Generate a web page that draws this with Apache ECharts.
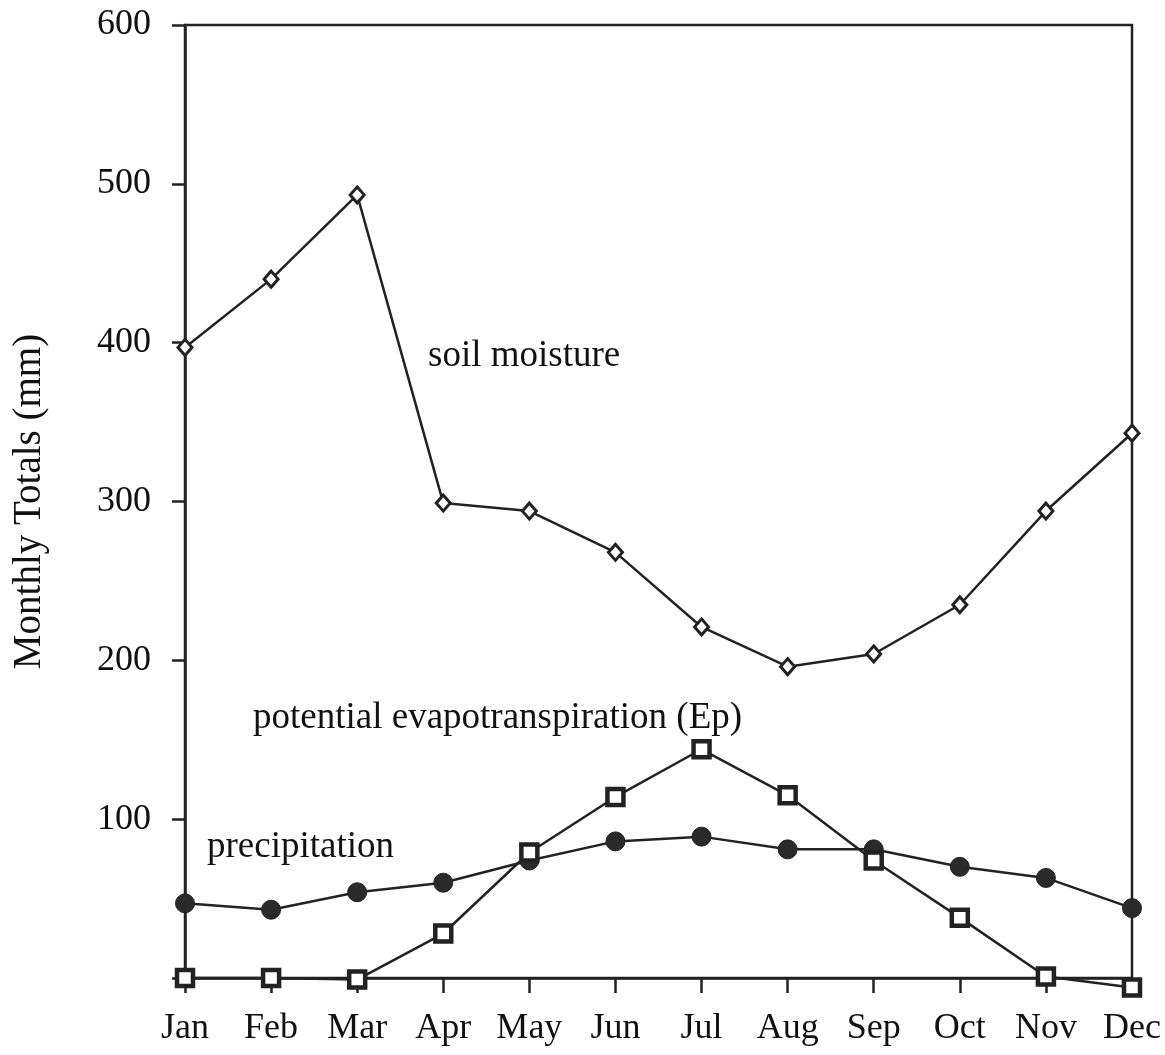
<!DOCTYPE html>
<html>
<head>
<meta charset="utf-8">
<script src="https://cdn.jsdelivr.net/npm/echarts@6/dist/echarts.min.js"></script>
<style>html,body{margin:0;padding:0;background:#fff}#c{width:1165px;height:1055px}</style>
</head>
<body>
<div id="c"></div>
<script>
const months = ['Jan','Feb','Mar','Apr','May','Jun','Jul','Aug','Sep','Oct','Nov','Dec'];
const soilMoisture = [397, 440, 493, 299, 294, 268, 221, 196, 204, 235, 294, 343];
const precipitation = [47, 43, 54, 60, 74, 86, 89, 81, 81, 70, 63, 44];
const evapotranspiration = [0, 0, -1, 28, 79, 114, 144, 115, 74, 38, 1, -6];
const yTicks = {min: 0, max: 600, interval: 100};

const ink = '#222';
const font = '"Liberation Serif", "Times New Roman", serif';
const chart = echarts.init(document.getElementById('c'));
chart.setOption({
  animation: false,
  backgroundColor: '#fff',
  grid: {left: 185, right: 33, top: 25, bottom: 77, outerBoundsMode: 'none', containLabel: false,
         show: true, borderColor: ink, borderWidth: 2.5, backgroundColor: 'transparent'},
  xAxis: {
    type: 'category', data: months, boundaryGap: false,
    axisLine: {lineStyle: {color: ink, width: 2.5}},
    axisTick: {show: true, alignWithLabel: true, length: 15, lineStyle: {color: ink, width: 2.5}},
    axisLabel: {color: '#111', fontFamily: font, fontSize: 36, margin: 33}
  },
  yAxis: {
    type: 'value', min: yTicks.min, max: yTicks.max, interval: yTicks.interval,
    name: 'Monthly Totals (mm)', nameLocation: 'middle', nameGap: 136,
    nameTextStyle: {color: '#111', fontFamily: font, fontSize: 39},
    splitLine: {show: false},
    axisLine: {show: true, lineStyle: {color: ink, width: 2.5}},
    axisTick: {show: true, length: 13, lineStyle: {color: ink, width: 2.5}},
    axisLabel: {color: '#111', fontFamily: font, fontSize: 36, margin: 34,
      formatter: v => v === 0 ? '' : String(v)}
  },
  series: [
    {name: 'soil moisture', type: 'line', data: soilMoisture, clip: false,
     symbol: 'diamond', symbolSize: [14, 16],
     lineStyle: {color: ink, width: 2.5},
     itemStyle: {color: '#fff', borderColor: ink, borderWidth: 3}},
    {name: 'precipitation', type: 'line', data: precipitation, clip: false,
     symbol: 'circle', symbolSize: 19,
     lineStyle: {color: ink, width: 2.5},
     itemStyle: {color: '#2a2a2a', borderColor: ink, borderWidth: 1}},
    {name: 'potential evapotranspiration (Ep)', type: 'line', data: evapotranspiration, clip: false,
     symbol: 'rect', symbolSize: 16, z: 3,
     lineStyle: {color: ink, width: 2.5},
     itemStyle: {color: '#fff', borderColor: ink, borderWidth: 4.5}}
  ],
  graphic: [
    {type: 'text', left: 428, top: 338, style: {text: 'soil moisture', font: '37px ' + font, fill: '#111'}},
    {type: 'text', left: 253, top: 700, style: {text: 'potential evapotranspiration (Ep)', font: '37px ' + font, fill: '#111'}},
    {type: 'text', left: 207, top: 829, style: {text: 'precipitation', font: '37px ' + font, fill: '#111'}}
  ]
});
</script>
</body>
</html>
